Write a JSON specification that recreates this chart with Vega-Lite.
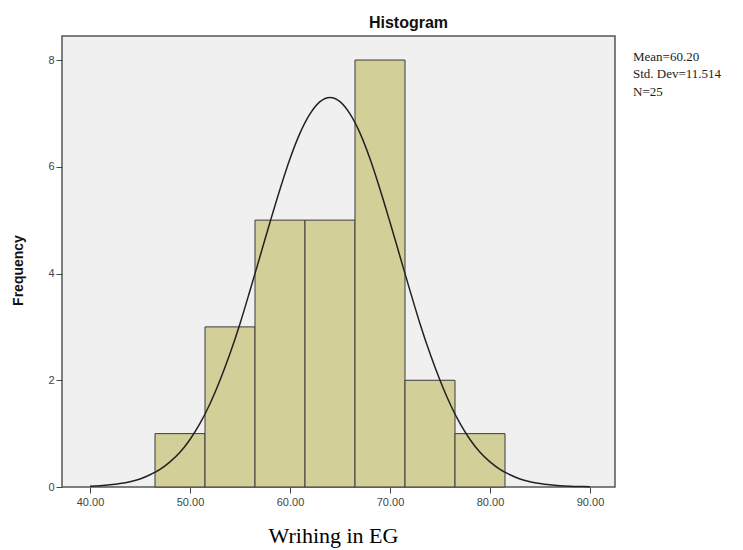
{
  "$schema": "https://vega.github.io/schema/vega-lite/v6.json",
  "autosize": {"type": "none"},
  "width": 553,
  "height": 451,
  "padding": {"left": 62, "top": 36, "right": 128, "bottom": 63},
  "background": "white",
  "title": {
    "text": "Histogram",
    "font": "Liberation Sans",
    "fontSize": 16,
    "fontWeight": "bold",
    "color": "#111",
    "anchor": "middle",
    "dx": 70,
    "offset": 5
  },
  "config": {
    "view": {"fill": "#f0f0f0", "stroke": "#555", "strokeWidth": 1.5},
    "axis": {
      "labelFont": "Liberation Sans",
      "labelFontSize": 11,
      "labelColor": "#444",
      "tickColor": "#444",
      "tickSize": 6,
      "domain": false,
      "grid": false
    }
  },
  "datasets": {
    "bins": [
      {"start": 46.5, "end": 51.5, "count": 1},
      {"start": 51.5, "end": 56.5, "count": 3},
      {"start": 56.5, "end": 61.5, "count": 5},
      {"start": 61.5, "end": 66.5, "count": 5},
      {"start": 66.5, "end": 71.5, "count": 8},
      {"start": 71.5, "end": 76.5, "count": 2},
      {"start": 76.5, "end": 81.5, "count": 1}
    ],
    "curve": [
      {"x": 40, "y": 0.015}, {"x": 41, "y": 0.025}, {"x": 42, "y": 0.041}, {"x": 43, "y": 0.065},
      {"x": 44, "y": 0.10}, {"x": 45, "y": 0.15}, {"x": 46, "y": 0.23}, {"x": 47, "y": 0.33},
      {"x": 48, "y": 0.47}, {"x": 49, "y": 0.65}, {"x": 50, "y": 0.89}, {"x": 51, "y": 1.19},
      {"x": 52, "y": 1.56}, {"x": 53, "y": 2.00}, {"x": 54, "y": 2.50}, {"x": 55, "y": 3.06},
      {"x": 56, "y": 3.68}, {"x": 57, "y": 4.32}, {"x": 58, "y": 4.96}, {"x": 59, "y": 5.58},
      {"x": 60, "y": 6.15}, {"x": 61, "y": 6.63}, {"x": 62, "y": 6.99}, {"x": 63, "y": 7.22},
      {"x": 64, "y": 7.30}, {"x": 65, "y": 7.22}, {"x": 66, "y": 6.99}, {"x": 67, "y": 6.63},
      {"x": 68, "y": 6.15}, {"x": 69, "y": 5.58}, {"x": 70, "y": 4.96}, {"x": 71, "y": 4.32},
      {"x": 72, "y": 3.68}, {"x": 73, "y": 3.06}, {"x": 74, "y": 2.50}, {"x": 75, "y": 2.00},
      {"x": 76, "y": 1.56}, {"x": 77, "y": 1.19}, {"x": 78, "y": 0.89}, {"x": 79, "y": 0.65},
      {"x": 80, "y": 0.47}, {"x": 81, "y": 0.33}, {"x": 82, "y": 0.23}, {"x": 83, "y": 0.15},
      {"x": 84, "y": 0.10}, {"x": 85, "y": 0.065}, {"x": 86, "y": 0.041}, {"x": 87, "y": 0.025},
      {"x": 88, "y": 0.015}, {"x": 89, "y": 0.009}, {"x": 90, "y": 0.005}
    ],
    "stats": [
      {"label": "Mean=60.20", "px": 94.3, "py": 8.05},
      {"label": "Std. Dev=11.514", "px": 94.3, "py": 7.73},
      {"label": "N=25", "px": 94.3, "py": 7.41}
    ]
  },
  "layer": [
    {
      "data": {"name": "bins"},
      "mark": {"type": "rect", "fill": "#d3cf98", "stroke": "#3a3a3a", "strokeWidth": 1},
      "encoding": {
        "x": {
          "field": "start", "type": "quantitative",
          "scale": {"domain": [37.2, 92.5], "nice": false, "zero": false},
          "axis": {
            "values": [40, 50, 60, 70, 80, 90],
            "format": ".2f",
            "title": "Wrihing in EG",
            "titleFont": "Liberation Serif",
            "titleFontSize": 22,
            "titleFontWeight": "normal",
            "titleColor": "#000",
            "titleX": 271,
            "titleY": 55,
            "titleBaseline": "alphabetic",
            "labelPadding": 3
          }
        },
        "x2": {"field": "end"},
        "y": {
          "field": "count", "type": "quantitative",
          "scale": {"domain": [0, 8.45], "nice": false},
          "axis": {
            "values": [0, 2, 4, 6, 8],
            "format": "d",
            "title": "Frequency",
            "titleFont": "Liberation Sans",
            "titleFontSize": 14,
            "titleFontWeight": "bold",
            "titleColor": "#111",
            "titleX": -44,
            "titleY": 234,
            "titleBaseline": "middle",
            "labelPadding": 2
          }
        },
        "y2": {"datum": 0}
      }
    },
    {
      "data": {"name": "curve"},
      "mark": {"type": "line", "color": "#222", "strokeWidth": 1.5, "interpolate": "monotone"},
      "encoding": {
        "x": {"field": "x", "type": "quantitative"},
        "y": {"field": "y", "type": "quantitative"}
      }
    },
    {
      "data": {"name": "stats"},
      "mark": {"type": "text", "align": "left", "baseline": "middle", "font": "Liberation Serif", "fontSize": 13, "color": "#222", "clip": false},
      "encoding": {
        "x": {"field": "px", "type": "quantitative"},
        "y": {"field": "py", "type": "quantitative"},
        "text": {"field": "label"}
      }
    }
  ]
}
